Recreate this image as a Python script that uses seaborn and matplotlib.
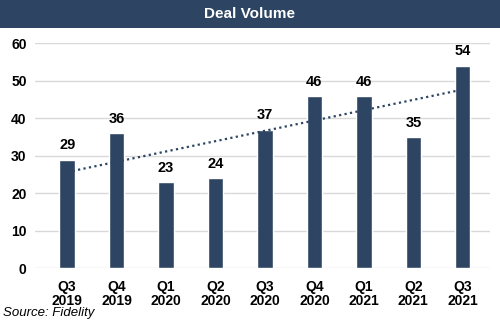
import numpy as np
import pandas as pd
import matplotlib
matplotlib.use("Agg")
import matplotlib.pyplot as plt
import seaborn as sns

quarters = ["Q3\n2019", "Q4\n2019", "Q1\n2020", "Q2\n2020", "Q3\n2020",
            "Q4\n2020", "Q1\n2021", "Q2\n2021", "Q3\n2021"]
volumes = [29, 36, 23, 24, 37, 46, 46, 35, 54]
yticks = [0, 10, 20, 30, 40, 50, 60]
title = "Deal Volume"
source = "Source: Fidelity"

navy = "#2D4562"
sns.set_theme(style="white")
plt.rcParams['font.family'] = ['Liberation Sans', 'DejaVu Sans']

df = pd.DataFrame({"q": quarters, "v": volumes})
fig = plt.figure(figsize=(5, 3.25), dpi=100)
ax = fig.add_axes([0.07, 0.174, 0.91, 0.693])
sns.barplot(data=df, x="q", y="v", color=navy, width=0.31, ax=ax, saturation=1)

x = np.arange(len(volumes))
m, b = np.polyfit(x, volumes, 1)
ax.plot([x[0], x[-1]], [m * x[0] + b, m * x[-1] + b], linestyle=(0, (1, 1.5)),
        color=navy, linewidth=1.6)

for xi, v in zip(x, volumes):
    ax.text(xi, v + 3.8, str(v), ha="center", va="center", fontsize=10.5,
            fontweight="bold", color="black")

ax.set_ylim(0, 60)
ax.set_yticks(yticks)
ax.set_xlim(-0.65, 8.55)
ax.yaxis.grid(True, color="#D9D9D9", linewidth=1)
ax.set_axisbelow(True)
for s in ax.spines.values():
    s.set_visible(False)
ax.set_xlabel("")
ax.set_ylabel("")
ax.tick_params(axis="both", length=0, labelsize=10, colors="black")
for lab in ax.get_xticklabels() + ax.get_yticklabels():
    lab.set_fontweight("bold")
for lab in ax.get_xticklabels():
    lab.set_linespacing(1.08)
ax.tick_params(axis="x", pad=8)
ax.tick_params(axis="y", pad=6)

fig.patches.append(plt.Rectangle((0, 1 - 28 / 325), 1, 28 / 325, transform=fig.transFigure,
                                 facecolor=navy, edgecolor="none", zorder=-1))
fig.text(0.5, 1 - 14 / 325, title, ha="center", va="center", color="white",
         fontsize=11, fontweight="bold")
fig.text(0.006, 1 - 313 / 325, source, ha="left", va="center", fontsize=9.5,
         fontstyle="italic", color="black")

fig.savefig("out.png", dpi=100)
